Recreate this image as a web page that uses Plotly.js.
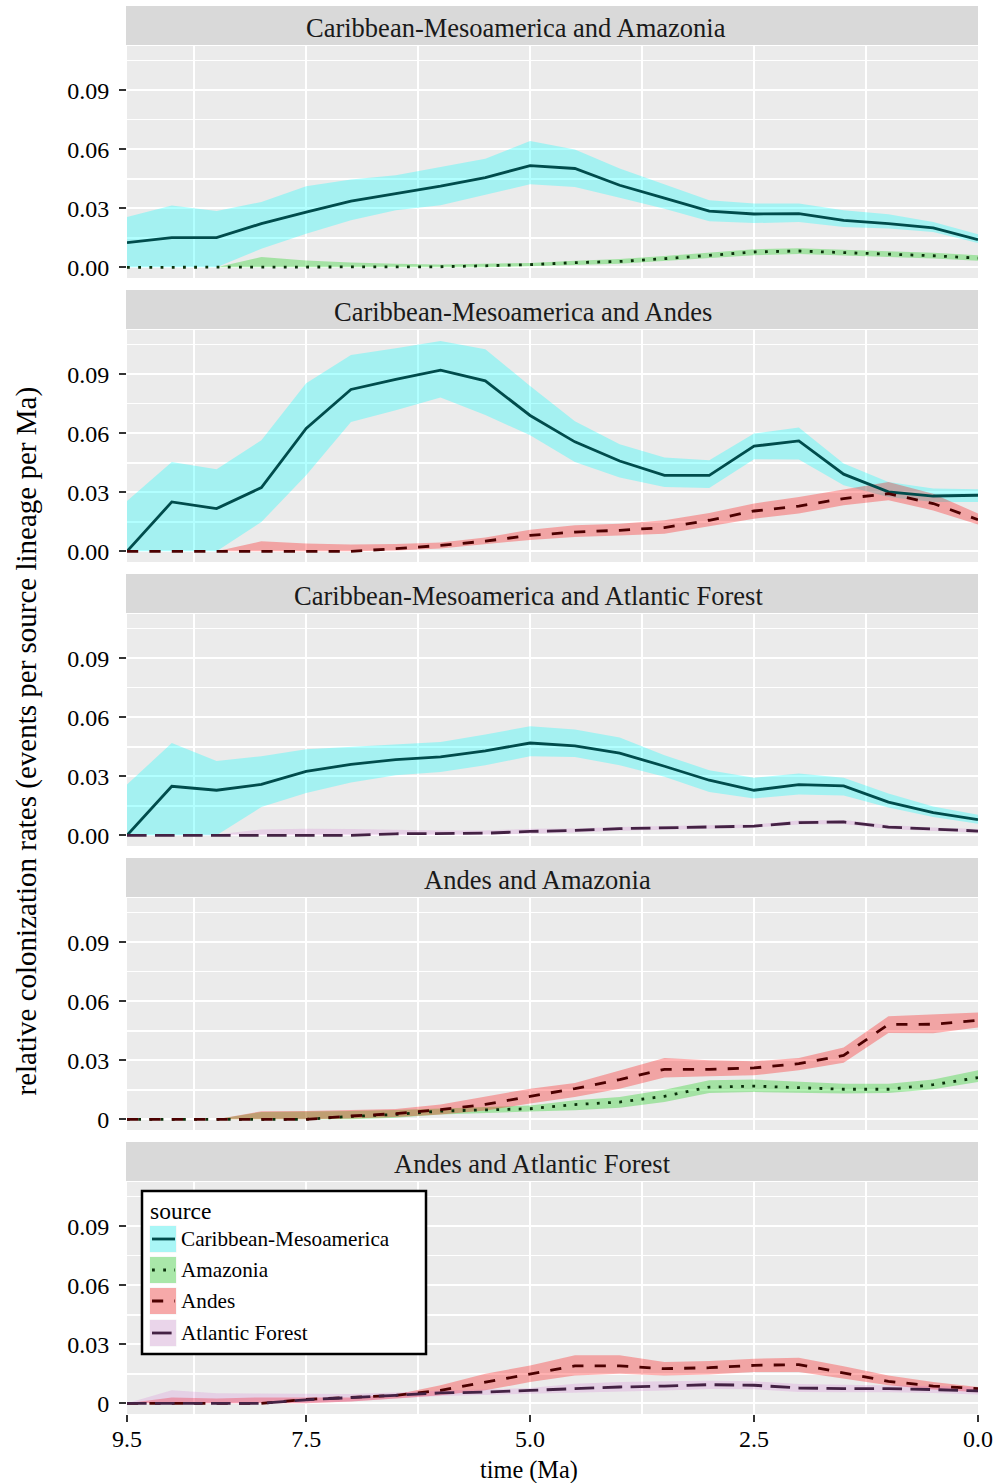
<!DOCTYPE html>
<html>
<head>
<meta charset="utf-8">
<script src="https://cdn.plot.ly/plotly-3.0.1.min.js"></script>
<style>html,body{margin:0;padding:0;background:#fff;}#chart{width:994px;height:1483px;}</style>
</head>
<body>
<div id="chart"></div>
<script>
// ---------------- DATA ----------------
const time = [9.5, 9.0, 8.5, 8.0, 7.5, 7.0, 6.5, 6.0, 5.5, 5.0, 4.5, 4.0, 3.5, 3.0, 2.5, 2.0, 1.5, 1.0, 0.5, 0.0];

const facetTitles = [
  "Caribbean-Mesoamerica and Amazonia",
  "Caribbean-Mesoamerica and Andes",
  "Caribbean-Mesoamerica and Atlantic Forest",
  "Andes and Amazonia",
  "Andes and Atlantic Forest"
];
const sources = ["Caribbean-Mesoamerica", "Amazonia", "Andes", "Atlantic Forest"];

const xTickVals = [9.5, 7.5, 5.0, 2.5, 0.0];
const xTickText = ["9.5", "7.5", "5.0", "2.5", "0.0"];
const yTickVals = [0, 0.03, 0.06, 0.09];
const yTickTextA = ["0.00", "0.03", "0.06", "0.09"];
const yTickTextB = ["0", "0.03", "0.06", "0.09"];

// Panel 1: Caribbean-Mesoamerica and Amazonia
const p1_cm_mid = [0.0126,0.0151,0.0151,0.0222,0.0281,0.0336,0.0375,0.0412,0.0456,0.0517,0.0502,0.0417,0.0352,0.0286,0.0271,0.0273,0.0239,0.0222,0.0200,0.0141];
const p1_cm_hi  = [0.0256,0.0314,0.0286,0.0332,0.0412,0.0446,0.0468,0.0510,0.0551,0.0641,0.0598,0.0502,0.0422,0.0341,0.0324,0.0324,0.0290,0.0270,0.0230,0.0168];
const p1_cm_lo  = [0,0,0,0.0095,0.0171,0.0239,0.0290,0.0315,0.0370,0.0422,0.0408,0.0354,0.0298,0.0234,0.0225,0.0230,0.0205,0.0197,0.0180,0.0124];
const p1_am_mid = [0,0,0,0,0,0,0,0.0003,0.0008,0.0014,0.0024,0.0030,0.0044,0.0061,0.0078,0.0083,0.0075,0.0066,0.0059,0.0047];
const p1_am_hi  = [0,0,0,0.0052,0.0035,0.0025,0.0018,0.0015,0.0018,0.0022,0.0033,0.0042,0.0058,0.0075,0.0092,0.0097,0.0090,0.0080,0.0074,0.0062];
const p1_am_lo  = [0,0,0,0,0,0,0,0,0,0.0005,0.0012,0.0018,0.0030,0.0047,0.0062,0.0068,0.0060,0.0052,0.0045,0.0033];

// Panel 2: Caribbean-Mesoamerica and Andes
const p2_cm_mid = [0,0.0251,0.0217,0.0324,0.0624,0.0822,0.0873,0.0920,0.0866,0.0690,0.0556,0.0459,0.0386,0.0386,0.0534,0.0561,0.0392,0.0302,0.0281,0.0285];
const p2_cm_hi  = [0.0256,0.0454,0.0417,0.0564,0.0853,0.0997,0.1031,0.1068,0.1026,0.0840,0.0661,0.0544,0.0476,0.0463,0.0598,0.0629,0.0446,0.0352,0.0319,0.0315];
const p2_cm_lo  = [0,0,0,0.0149,0.0386,0.0657,0.0717,0.0781,0.0692,0.0590,0.0454,0.0375,0.0327,0.0322,0.0468,0.0466,0.0336,0.0276,0.0251,0.0251];
const p2_an_mid = [0,0,0,0,0,0,0.0014,0.0030,0.0052,0.0081,0.0098,0.0107,0.0121,0.0158,0.0205,0.0230,0.0268,0.0293,0.0243,0.0161];
const p2_an_hi  = [0,0,0,0.0051,0.0040,0.0035,0.0038,0.0045,0.0070,0.0110,0.0132,0.0140,0.0158,0.0195,0.0243,0.0276,0.0315,0.0352,0.0293,0.0192];
const p2_an_lo  = [0,0,0,0,0,0,0.0005,0.0015,0.0035,0.0058,0.0073,0.0080,0.0090,0.0127,0.0166,0.0192,0.0234,0.0259,0.0208,0.0137];

// Panel 3: Caribbean-Mesoamerica and Atlantic Forest
const p3_cm_mid = [0,0.0249,0.0229,0.0259,0.0325,0.0361,0.0385,0.0398,0.0429,0.0469,0.0454,0.0418,0.0351,0.0280,0.0229,0.0258,0.0251,0.0169,0.0115,0.0080];
const p3_cm_hi  = [0.0258,0.0469,0.0378,0.0402,0.0437,0.0449,0.0461,0.0474,0.0512,0.0554,0.0537,0.0497,0.0407,0.0331,0.0293,0.0314,0.0293,0.0212,0.0147,0.0105];
const p3_cm_lo  = [0,0,0,0.0144,0.0215,0.0268,0.0305,0.0322,0.0356,0.0402,0.0398,0.0356,0.0297,0.0220,0.0187,0.0208,0.0203,0.0141,0.0093,0.0059];
const p3_af_mid = [0,0,0,0,0,0,0.0008,0.0010,0.0011,0.0020,0.0025,0.0034,0.0039,0.0042,0.0047,0.0065,0.0068,0.0042,0.0031,0.0022];
const p3_af_hi  = [0,0.0003,0.0005,0.0030,0.0034,0.0032,0.0028,0.0025,0.0025,0.0033,0.0035,0.0043,0.0047,0.0050,0.0055,0.0075,0.0078,0.0052,0.0040,0.0032];
const p3_af_lo  = [0,0,0,0,0,0,0,0.0002,0.0003,0.0010,0.0015,0.0024,0.0030,0.0034,0.0039,0.0055,0.0058,0.0032,0.0022,0.0013];

// Panel 4: Andes and Amazonia
const p4_am_mid = [0,0,0,0,0,0.0015,0.0025,0.0042,0.0049,0.0054,0.0075,0.0088,0.0117,0.0164,0.0169,0.0161,0.0153,0.0153,0.0176,0.0212];
const p4_am_hi  = [0,0,0,0.0038,0.0040,0.0042,0.0048,0.0055,0.0062,0.0070,0.0097,0.0113,0.0151,0.0198,0.0202,0.0190,0.0181,0.0181,0.0202,0.0249];
const p4_am_lo  = [0,0,0,0,0,0,0.0008,0.0025,0.0034,0.0040,0.0046,0.0059,0.0088,0.0134,0.0139,0.0136,0.0131,0.0134,0.0153,0.0190];
const p4_an_mid = [0,0,0,0,0,0.0017,0.0029,0.0049,0.0076,0.0117,0.0156,0.0202,0.0254,0.0254,0.0261,0.0283,0.0325,0.0482,0.0483,0.0503];
const p4_an_hi  = [0,0,0,0.0041,0.0042,0.0047,0.0052,0.0075,0.0114,0.0156,0.0185,0.0249,0.0312,0.0300,0.0295,0.0312,0.0365,0.0524,0.0534,0.0543];
const p4_an_lo  = [0,0,0,0,0,0.0005,0.0012,0.0025,0.0045,0.0080,0.0113,0.0156,0.0212,0.0219,0.0224,0.0249,0.0288,0.0439,0.0437,0.0466];

// Panel 5: Andes and Atlantic Forest
const p5_an_mid = [0,0,0,0,0.0020,0.0029,0.0041,0.0066,0.0108,0.0148,0.0190,0.0190,0.0176,0.0181,0.0193,0.0197,0.0154,0.0112,0.0088,0.0075];
const p5_an_hi  = [0,0.0030,0.0025,0.0030,0.0030,0.0030,0.0045,0.0092,0.0151,0.0192,0.0244,0.0244,0.0210,0.0215,0.0227,0.0232,0.0188,0.0142,0.0108,0.0083];
const p5_an_lo  = [0,0,0,0,0,0.0010,0.0025,0.0041,0.0066,0.0108,0.0142,0.0151,0.0142,0.0146,0.0159,0.0159,0.0126,0.0092,0.0070,0.0057];
const p5_af_mid = [0,0,0,0,0.0018,0.0028,0.0041,0.0053,0.0057,0.0066,0.0075,0.0083,0.0088,0.0095,0.0092,0.0078,0.0075,0.0075,0.0070,0.0063];
const p5_af_hi  = [0,0.0066,0.0051,0.0050,0.0048,0.0048,0.0055,0.0065,0.0070,0.0078,0.0100,0.0108,0.0112,0.0115,0.0112,0.0098,0.0095,0.0092,0.0088,0.0082];
const p5_af_lo  = [0,0,0,0,0.0002,0.0010,0.0025,0.0038,0.0042,0.0050,0.0053,0.0060,0.0065,0.0073,0.0072,0.0058,0.0057,0.0057,0.0053,0.0045];

// ---------------- STYLE ----------------
const styles = {
  "Caribbean-Mesoamerica": {fill: "rgba(0,255,255,0.3)", line: "#004c4c", dash: "solid"},
  "Amazonia":              {fill: "rgba(0,204,0,0.3)",   line: "#0a300a", dash: "2.8px,8.4px"},
  "Andes":                 {fill: "rgba(255,0,0,0.3)",   line: "#4c0000", dash: "11.2px,11.2px"},
  "Atlantic Forest":       {fill: "rgba(204,102,204,0.2)", line: "#442244", dash: "19.6px,8.4px"}
};

const facets = [
  [{src: "Caribbean-Mesoamerica", lo: p1_cm_lo, mid: p1_cm_mid, hi: p1_cm_hi},
   {src: "Amazonia", lo: p1_am_lo, mid: p1_am_mid, hi: p1_am_hi}],
  [{src: "Caribbean-Mesoamerica", lo: p2_cm_lo, mid: p2_cm_mid, hi: p2_cm_hi},
   {src: "Andes", lo: p2_an_lo, mid: p2_an_mid, hi: p2_an_hi}],
  [{src: "Caribbean-Mesoamerica", lo: p3_cm_lo, mid: p3_cm_mid, hi: p3_cm_hi},
   {src: "Atlantic Forest", lo: p3_af_lo, mid: p3_af_mid, hi: p3_af_hi}],
  [{src: "Amazonia", lo: p4_am_lo, mid: p4_am_mid, hi: p4_am_hi},
   {src: "Andes", lo: p4_an_lo, mid: p4_an_mid, hi: p4_an_hi}],
  [{src: "Andes", lo: p5_an_lo, mid: p5_an_mid, hi: p5_an_hi},
   {src: "Atlantic Forest", lo: p5_af_lo, mid: p5_af_mid, hi: p5_af_hi}]
];

// ---------------- GEOMETRY ----------------
const W = 994, H = 1483, ML = 127, MR = 16, MT = 6, MB = 68;
const PW = W - ML - MR, PH = H - MT - MB;
const px = x => (x - ML) / PW;
const py = y => (H - MB - y) / PH;
const STEP = 284, PANEL_TOP = 46, PANEL_BOT = 278;
const FONT = '"Liberation Serif", "Times New Roman", serif';

const traces = [];
const layout = {
  width: W, height: H,
  margin: {l: ML, r: MR, t: MT, b: MB, pad: 0},
  paper_bgcolor: "#ffffff",
  plot_bgcolor: "#ebebeb",
  showlegend: false,
  font: {family: FONT, color: "#000000", size: 24},
  shapes: [], annotations: []
};

const revT = time.slice().reverse();
facets.forEach((series, i) => {
  const k = i + 1;
  const xa = k === 1 ? "x" : "x" + k;
  const ya = k === 1 ? "y" : "y" + k;
  // ribbons first
  series.forEach(s => {
    traces.push({
      type: "scatter", mode: "lines", xaxis: xa, yaxis: ya,
      x: time.concat(revT), y: s.hi.concat(s.lo.slice().reverse()),
      fill: "toself", fillcolor: styles[s.src].fill,
      line: {width: 0, color: "rgba(0,0,0,0)"}, hoverinfo: "skip"
    });
  });
  // lines on top
  series.forEach(s => {
    traces.push({
      type: "scatter", mode: "lines", xaxis: xa, yaxis: ya,
      x: time, y: s.mid,
      line: {width: 2.8, color: styles[s.src].line, dash: styles[s.src].dash},
      hoverinfo: "skip"
    });
  });

  const top = PANEL_TOP + STEP * i, bot = PANEL_BOT + STEP * i;
  const isBottom = k === 5;
  layout["xaxis" + (k === 1 ? "" : k)] = {
    domain: [0, 1], anchor: ya, range: [9.5, 0],
    tickmode: "array", tickvals: xTickVals, ticktext: xTickText,
    showticklabels: isBottom, ticks: isBottom ? "outside" : "",
    ticklen: 7, tickwidth: 2.2, tickcolor: "#333333",
    ticklabelstandoff: -4,
    tickfont: {family: FONT, size: 24, color: "#000000"},
    showgrid: false, zeroline: false, showline: false,
    minor: {tickmode: "array", tickvals: [0, 1.25, 2.5, 3.75, 5, 6.25, 7.5, 8.75],
            showgrid: true, gridcolor: "#ffffff", gridwidth: 2, ticks: ""},
    fixedrange: true
  };
  layout["yaxis" + (k === 1 ? "" : k)] = {
    domain: [py(bot), py(top)], anchor: xa, range: [-0.0054, 0.1124],
    tickmode: "array", tickvals: yTickVals, ticktext: k >= 4 ? yTickTextB : yTickTextA,
    ticks: "outside", ticklen: 7, tickwidth: 2.2, tickcolor: "#333333",
    ticklabelstandoff: 5,
    tickfont: {family: FONT, size: 24, color: "#000000"},
    showgrid: true, gridcolor: "#ffffff", gridwidth: 2,
    zeroline: false, showline: false,
    minor: {tickmode: "array", tickvals: [0.015, 0.045, 0.075, 0.105],
            showgrid: true, gridcolor: "#ffffff", gridwidth: 1.6, ticks: ""},
    fixedrange: true
  };

  // strip
  layout.shapes.push({type: "rect", xref: "paper", yref: "paper",
    x0: px(126), x1: 1, y0: py(top - 1), y1: py(top - 40),
    fillcolor: "#d9d9d9", line: {width: 0}, layer: "above"});
  const stripLeft = [304, 332, 292, 422, 392][i];
  layout.annotations.push({xref: "paper", yref: "paper", x: px(stripLeft), y: py(top - 18),
    xanchor: "left", yanchor: "middle", showarrow: false, text: facetTitles[i],
    font: {family: FONT, size: 26.5, color: "#1a1a1a"}});
});

// axis titles
layout.annotations.push({xref: "paper", yref: "paper", x: px(478), y: py(1470),
  xanchor: "left", yanchor: "middle", showarrow: false, text: "time (Ma)",
  font: {family: FONT, size: 24.3, color: "#000000"}});
layout.annotations.push({xref: "paper", yref: "paper", x: px(26), y: py(1098),
  xanchor: "center", yanchor: "bottom", showarrow: false, textangle: -90,
  text: "relative colonization rates (events per source lineage per Ma)",
  font: {family: FONT, size: 29, color: "#000000"}});

// legend (drawn manually)
layout.shapes.push({type: "rect", xref: "paper", yref: "paper",
  x0: px(142), x1: px(426), y0: py(1354), y1: py(1191),
  fillcolor: "#ffffff", line: {color: "#000000", width: 2.5}, layer: "above"});
layout.annotations.push({xref: "paper", yref: "paper", x: px(148), y: py(1211),
  xanchor: "left", yanchor: "middle", showarrow: false, text: "source",
  font: {family: FONT, size: 23.5, color: "#000000"}});
const rowCenters = [1239, 1270, 1301, 1333];
sources.forEach((src, j) => {
  const c = rowCenters[j];
  layout.shapes.push({type: "rect", xref: "paper", yref: "paper",
    x0: px(149), x1: px(177), y0: py(c + 14), y1: py(c - 14),
    fillcolor: "#f2f2f2", line: {color: "#ffffff", width: 1}, layer: "above"});
  layout.shapes.push({type: "rect", xref: "paper", yref: "paper",
    x0: px(150), x1: px(176), y0: py(c + 13), y1: py(c - 13),
    fillcolor: styles[src].fill, line: {width: 0}, layer: "above"});
  layout.shapes.push({type: "line", xref: "paper", yref: "paper",
    x0: px(152), x1: px(175), y0: py(c), y1: py(c),
    line: {color: styles[src].line, width: 2.8, dash: styles[src].dash}, layer: "above"});
  layout.annotations.push({xref: "paper", yref: "paper", x: px(179), y: py(c),
    xanchor: "left", yanchor: "middle", showarrow: false, text: src,
    font: {family: FONT, size: 21.2, color: "#000000"}});
});

Plotly.newPlot("chart", traces, layout, {staticPlot: true, displayModeBar: false});
</script>
</body>
</html>
